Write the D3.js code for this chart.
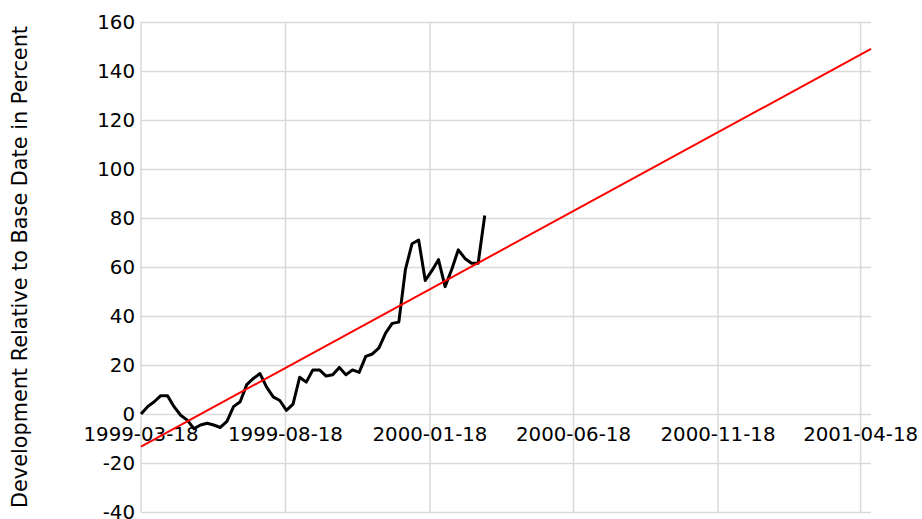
<!DOCTYPE html>
<html>
<head>
<meta charset="utf-8">
<script src="https://cdn.jsdelivr.net/npm/d3@7"></script>
<style>
    body { margin: 0; background: #fff; }
    svg { display: block; font-family: "DejaVu Sans", sans-serif; }
</style>
</head>
<body>
<div class="chart"></div>
<script>
        // weekly values, starting at the base date
        var startDate = "1999-03-18";
        var weeklyValues = [0, 3, 5, 7.5, 7.5, 3, -0.5, -2.5, -6, -4.5,
            -3.8, -4.5, -5.5, -3, 3, 5, 12, 14.5, 16.5, 11,
            7, 5.5, 1.5, 4, 15, 13, 18, 18, 15.5, 16,
            19, 16, 18, 17, 23.5, 24.5, 27, 33, 37, 37.5,
            59, 69.5, 71, 54.5, 58.5, 63, 52, 59, 67, 63.5,
            61.5, 61.5, 81];

        // trend line end points
        var trendDates = ["1999-03-18", "2001-04-29"];
        var trendValues = [-13.3, 149];

        var xTickLabels = ["1999-03-18", "1999-08-18", "2000-01-18", "2000-06-18", "2000-11-18", "2001-04-18"];
        var yTicks = [-40, -20, 0, 20, 40, 60, 80, 100, 120, 140, 160];
        var yTitle = "Development Relative to Base Date in Percent";

        var parse = d3.timeParse("%Y-%m-%d");
        var width = 922;
        var height = 519;
        var mLeft = 141, mRight = 871, mTop = 22, mBottom = 512;

        var data = weeklyValues.map(function (v, i) {
            return { date: d3.timeDay.offset(parse(startDate), i * 7), value: v };
        });
        var trend = trendDates.map(function (d, i) {
            return { date: parse(d), value: trendValues[i] };
        });

        var svg = d3.select(".chart")
            .append("svg")
            .attr("width", width)
            .attr("height", height);

        var x = d3.scaleTime()
            .domain([parse(trendDates[0]), parse(trendDates[1])])
            .range([mLeft, mRight]);

        var y = d3.scaleLinear()
            .domain([-40, 160])
            .range([mBottom, mTop]);

        //horizontal grid + y labels (plain hyphen for negatives)
        var yAxis = svg.append("g")
            .attr("transform", "translate(" + mLeft + ",0)")
            .call(d3.axisLeft(y)
                .tickValues(yTicks)
                .tickFormat(function (d) { return String(d) })
                .tickSize(-(mRight - mLeft))
                .tickPadding(6))
        yAxis.select(".domain").remove();
        yAxis.selectAll("line").attr("stroke", "#d9d9d9").attr("stroke-width", 1.5);
        yAxis.selectAll("text")
            .attr("font-size", "19.8px")
            .attr("font-family", "DejaVu Sans")
            .attr("fill", "#000");

        //vertical grid
        svg.append("g")
            .selectAll("line")
            .data(xTickLabels)
            .join("line")
            .attr("x1", function (d) { return x(parse(d)) })
            .attr("x2", function (d) { return x(parse(d)) })
            .attr("y1", mTop)
            .attr("y2", mBottom)
            .attr("stroke", "#d9d9d9")
            .attr("stroke-width", 1.5);

        //x labels below the zero line
        svg.append("g")
            .selectAll("text")
            .data(xTickLabels)
            .join("text")
            .attr("x", function (d) { return x(parse(d)) })
            .attr("y", y(0) + 27)
            .attr("text-anchor", "middle")
            .attr("font-size", "19.8px")
            .attr("fill", "#000")
            .text(function (d) { return d });

        var line = d3.line()
            .x(function (d) { return x(d.date) })
            .y(function (d) { return y(d.value) });

        svg.append("path")
            .datum(data)
            .attr("d", line)
            .attr("fill", "none")
            .attr("stroke", "#000")
            .attr("stroke-width", 3)
            .attr("stroke-linejoin", "round");

        svg.append("path")
            .datum(trend)
            .attr("d", line)
            .attr("fill", "none")
            .attr("stroke", "#ff0000")
            .attr("stroke-width", 2);

        //y title
        svg.append("text")
            .attr("transform", "translate(27,267) rotate(-90)")
            .attr("text-anchor", "middle")
            .attr("font-size", "20.8px")
            .attr("fill", "#000")
            .text(yTitle);
</script>
</body>
</html>
